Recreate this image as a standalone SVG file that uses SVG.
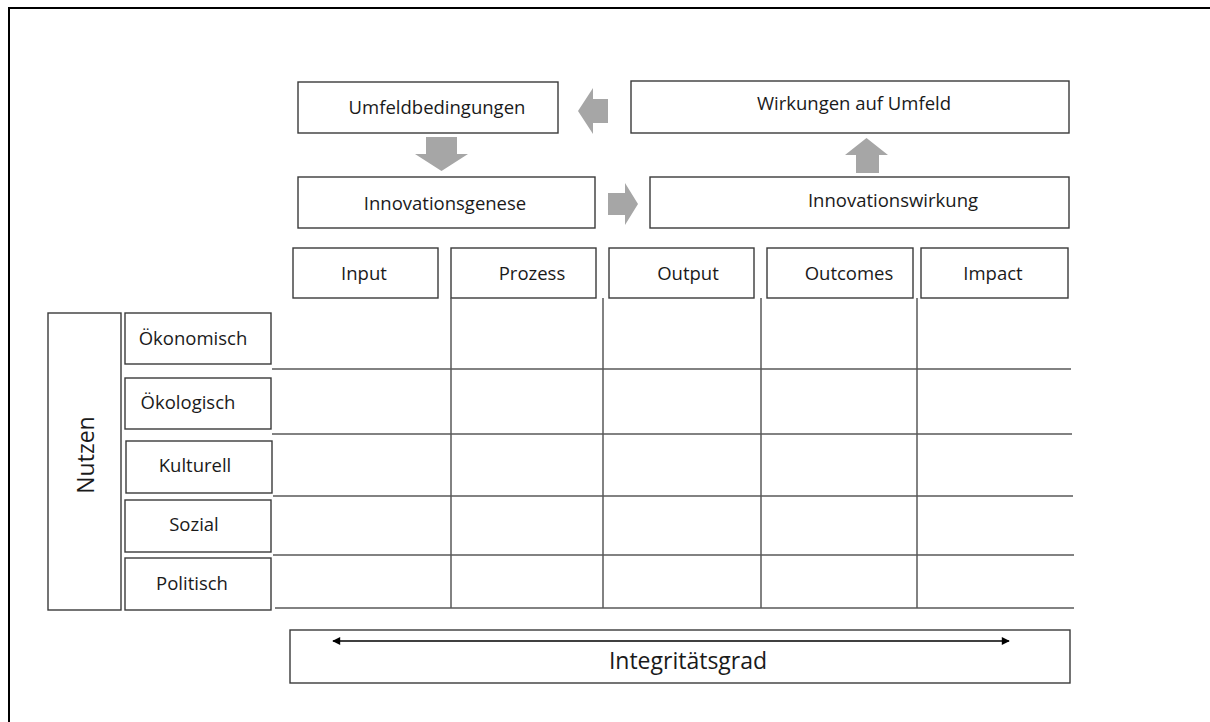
<svg xmlns="http://www.w3.org/2000/svg" width="1210" height="722" viewBox="0 0 1210 722">
<style>
.box{fill:#fff;stroke:#3a3a3a;stroke-width:1.4}
.t{font-family:"Open Sans","Liberation Sans",sans-serif;font-size:18.5px;fill:#1a1a1a;text-anchor:middle}
.big{font-size:23px}
.grid{stroke:#5a5a5a;stroke-width:1.5;fill:none}
.ga{fill:#a6a6a6;stroke:none}
</style>
<defs>
<marker id="ah" viewBox="0 0 10 10" refX="9" refY="5" markerWidth="9" markerHeight="8" markerUnits="userSpaceOnUse" orient="auto-start-reverse">
<path d="M0,0 L10,5 L0,10 Z" fill="#000"/>
</marker>
</defs>
<rect width="1210" height="722" fill="#fff"/>
<path d="M9,722 V8 H1210" fill="none" stroke="#000" stroke-width="2"/>

<g id="umfeldbedingungen"><rect class="box" x="298" y="82" width="260" height="51"/><text class="t" x="437" y="114">Umfeldbedingungen</text></g>
<g id="wirkungen"><rect class="box" x="631" y="81" width="438" height="52"/><text class="t" x="854" y="110">Wirkungen auf Umfeld</text></g>
<g id="innovationsgenese"><rect class="box" x="298" y="177" width="297" height="51"/><text class="t" x="445" y="210">Innovationsgenese</text></g>
<g id="innovationswirkung"><rect class="box" x="650" y="177" width="419" height="51"/><text class="t" x="893" y="207">Innovationswirkung</text></g>

<g id="header">
<g id="input"><rect class="box" x="293" y="248" width="145" height="50"/><text class="t" x="364" y="280">Input</text></g>
<g id="prozess"><rect class="box" x="451" y="248" width="145" height="50"/><text class="t" x="532" y="280">Prozess</text></g>
<g id="output"><rect class="box" x="609" y="248" width="145" height="50"/><text class="t" x="688" y="280">Output</text></g>
<g id="outcomes"><rect class="box" x="767" y="248" width="146" height="50"/><text class="t" x="849" y="280">Outcomes</text></g>
<g id="impact"><rect class="box" x="921" y="248" width="147" height="50"/><text class="t" x="993" y="280">Impact</text></g>
</g>

<g id="grid">
<path class="grid" d="M451,298 V608 M603,298 V608 M761,298 V608 M917,298 V608"/>
<path class="grid" d="M272,369 H1071 M272,434 H1072 M273,496 H1073 M273,555 H1074 M275,608 H1074"/>
</g>

<g id="nutzen"><rect class="box" x="48" y="313" width="73" height="297"/><text class="t big" transform="translate(94,455) rotate(-90)">Nutzen</text></g>
<g id="oekonomisch"><rect class="box" x="125" y="313" width="146" height="51"/><text class="t" x="193" y="345">Ökonomisch</text></g>
<g id="oekologisch"><rect class="box" x="125" y="378" width="146" height="51"/><text class="t" x="188" y="409">Ökologisch</text></g>
<g id="kulturell"><rect class="box" x="126" y="441" width="146" height="52"/><text class="t" x="195" y="472">Kulturell</text></g>
<g id="sozial"><rect class="box" x="125" y="500" width="146" height="52"/><text class="t" x="194" y="531">Sozial</text></g>
<g id="politisch"><rect class="box" x="125" y="558" width="146" height="52"/><text class="t" x="192" y="590">Politisch</text></g>

<g id="integritaetsgrad"><rect class="box" x="290" y="630" width="780" height="53"/><text class="t big" x="688" y="669">Integritätsgrad</text></g>

<g id="connectors">
<path class="ga" d="M578,111 L593,88 L593,99 L608,99 L608,123 L593,123 L593,134 Z"/>
<path class="ga" d="M426,137 L457,137 L457,154 L468,154 L441.5,171 L415,154 L426,154 Z"/>
<path class="ga" d="M608,193 L625,193 L625,183 L638,204 L625,225 L625,215 L608,215 Z"/>
<path class="ga" d="M856,173 L856,155 L845,155 L866.5,138 L888,155 L879,155 L879,173 Z"/>
<line x1="333" y1="641" x2="1009" y2="641" stroke="#000" stroke-width="1.5" marker-start="url(#ah)" marker-end="url(#ah)"/>
</g>
</svg>
